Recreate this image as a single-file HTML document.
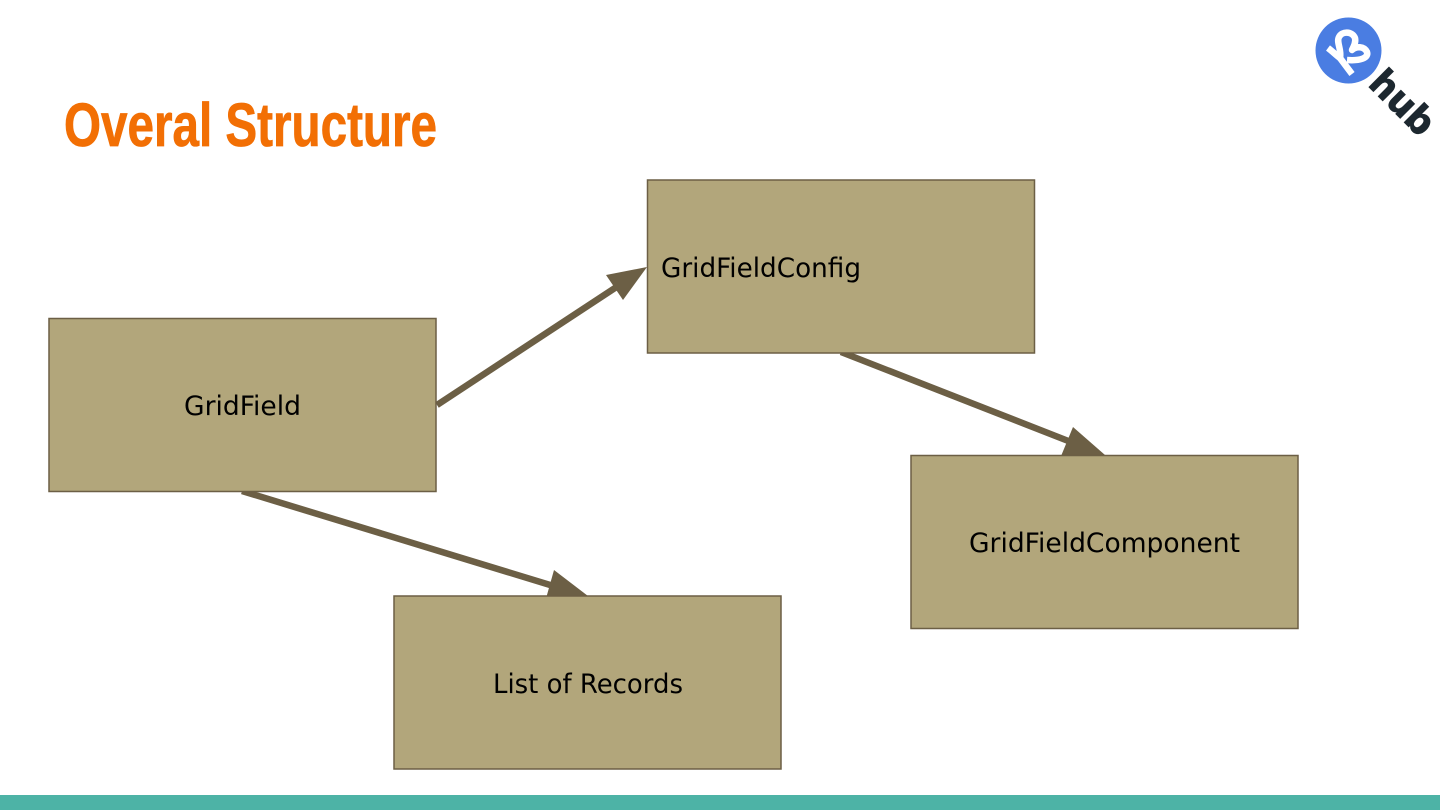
<!DOCTYPE html>
<html><head><meta charset="utf-8"><style>
html,body{margin:0;padding:0;background:#fff;width:1440px;height:810px;overflow:hidden}
svg{display:block}
</style></head><body>
<svg width="1440" height="810" viewBox="0 0 1440 810" xmlns="http://www.w3.org/2000/svg">
<rect width="1440" height="810" fill="#fff"/>
<rect x="0" y="795" width="1440" height="15" fill="#4db3a6"/>
<text x="64" y="146" font-family="'Liberation Sans',sans-serif" font-weight="700" font-size="61" fill="#f26f04" stroke="#f26f04" stroke-width="0.8" textLength="373" lengthAdjust="spacingAndGlyphs">Overal Structure</text>
<g fill="#6c5f45" stroke="none">
<line x1="437" y1="405" x2="618" y2="286" stroke="#6c5f45" stroke-width="6.500"/>
<polygon points="647,267 606,275 623,300"/>
<line x1="841" y1="352" x2="1076" y2="444" stroke="#6c5f45" stroke-width="6.500"/>
<polygon points="1105,455 1073,427 1059,461"/>
<line x1="242" y1="491" x2="560" y2="588" stroke="#6c5f45" stroke-width="6.500"/>
<polygon points="588,596 554,570 545,602"/>
</g>
<g fill="#b2a67b" stroke="#6c5f45" stroke-width="1.500">
<rect x="49" y="318.500" width="387" height="173"/>
<rect x="647.500" y="180" width="387" height="173"/>
<rect x="911" y="455.500" width="387" height="173"/>
<rect x="394" y="596" width="387" height="173"/>
</g>
<g font-family="'DejaVu Sans',sans-serif" font-size="27" fill="#000">
<text x="184" y="415" textLength="117" lengthAdjust="spacingAndGlyphs">GridField</text>
<text x="661" y="277" textLength="200" lengthAdjust="spacingAndGlyphs">GridFieldConfig</text>
<text x="969" y="552" textLength="271" lengthAdjust="spacingAndGlyphs">GridFieldComponent</text>
<text x="493" y="693" textLength="190" lengthAdjust="spacingAndGlyphs">List of Records</text>
</g>
<circle cx="1348.500" cy="50.500" r="33" fill="#4a7de2"/>
<g fill="none" stroke="#fff" stroke-width="6.500" stroke-linecap="butt" stroke-linejoin="round">
<path d="M1328,48 C1332,51 1336,55 1340,58 C1342,50 1336,42 1339,37 C1342,31 1352,31 1355,38 C1356,42 1354,46 1352,50 C1356,46 1364,46 1367,52 C1369,58 1360,61 1347,60"/>
<path d="M1340,58 L1352,74"/>
</g>
<text x="0" y="0" transform="translate(1367,85) rotate(45)" font-family="'DejaVu Sans',sans-serif" font-weight="700" font-size="37" fill="#1d2830" stroke="#1d2830" stroke-width="1" textLength="75" lengthAdjust="spacingAndGlyphs">hub</text>
</svg>
</body></html>
